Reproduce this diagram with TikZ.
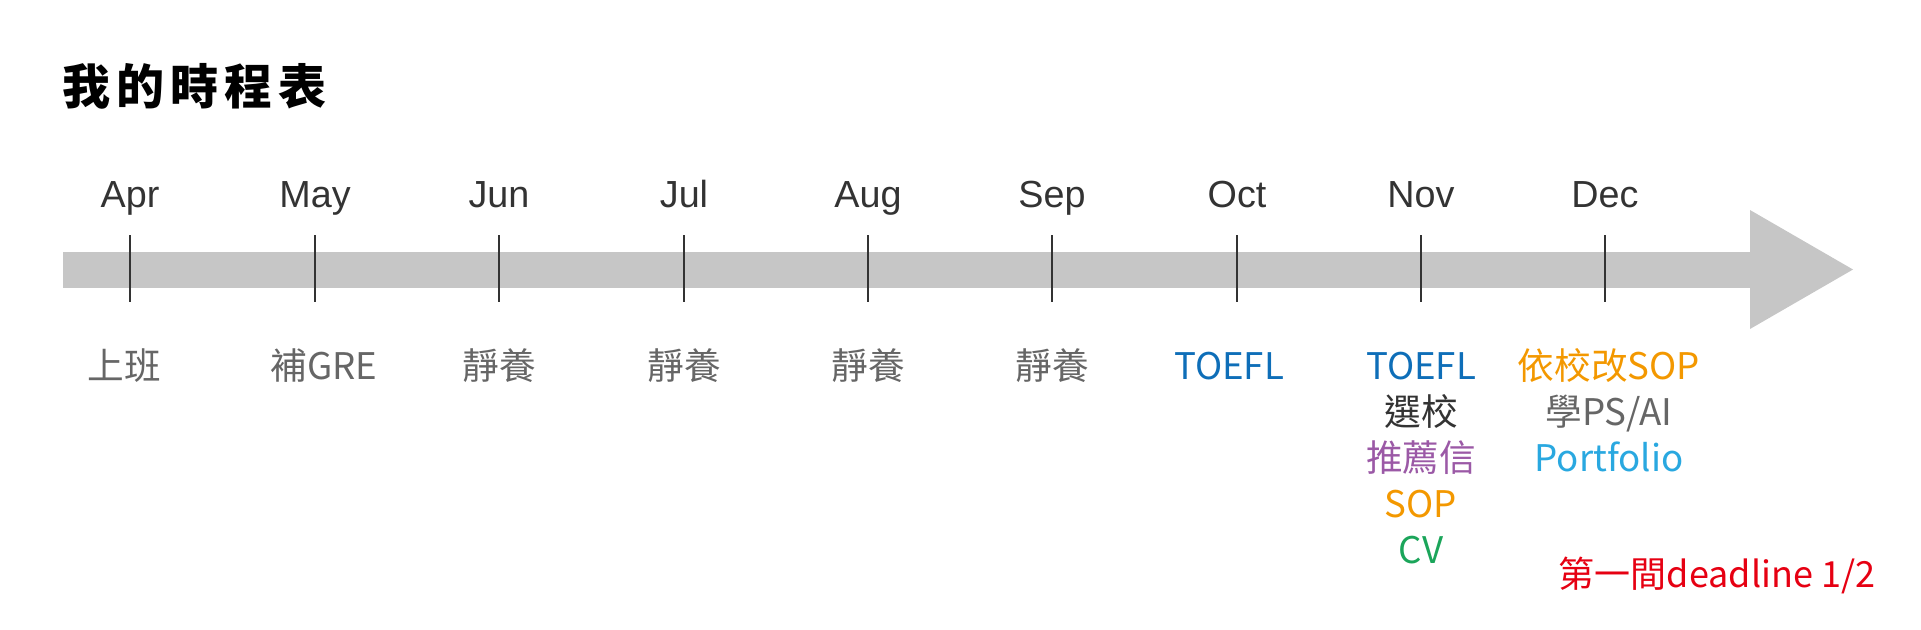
\documentclass[tikz,border=0pt]{standalone}
\usepackage{fontspec}
\setmainfont{Noto Sans CJK TC}
\newfontfamily\monthfont{Liberation Sans}
\usetikzlibrary{arrows.meta}
\definecolor{bargray}{HTML}{C6C6C6}
\definecolor{tickgray}{HTML}{333333}
\definecolor{monthgray}{HTML}{333333}
\definecolor{taskgray}{HTML}{666666}
\definecolor{toeflblue}{HTML}{0E6EB8}
\definecolor{recpurple}{HTML}{9B59A6}
\definecolor{soporange}{HTML}{F39800}
\definecolor{cvgreen}{HTML}{1BA55A}
\definecolor{folioblue}{HTML}{29A8E0}
\definecolor{deadred}{HTML}{E60012}
\tikzset{
titletext/.style={anchor=base west, inner sep=0pt, font=\bfseries\fontsize{36}{40}\selectfont}, % heading
month/.style={anchor=base, inner sep=0pt, text=monthgray, font=\monthfont\fontsize{28.3}{34}\selectfont}, % month names above the bar
task/.style={anchor=base, inner sep=0pt, text=taskgray, font=\fontsize{27.5}{34}\selectfont}, % plans below the bar
monthtick/.style={fill=tickgray, inner sep=0pt, minimum width=1.5pt, minimum height=50.25pt}, % marks across the bar
timeline/.style={draw=bargray, line width=27pt, -{Triangle[length=77.25pt, width=89.25pt, line width=0pt]}},
}

\begin{document}
\begin{tikzpicture}[x=0.75pt, y=-0.75pt]
            \useasboundingbox (0,0) rectangle (1921,629);
            \node[titletext] (title) at (62,104) {我\kern4.5pt 的\kern4.5pt 時\kern4.5pt 程\kern4.5pt 表};

            % the bar
            \coordinate (start) at (63,269.5);
            \coordinate (end) at (1853,269.5);
            \draw[timeline] (start) -- (end);

            \node[monthtick] (apr) at (130,268.5) {};
            \node[monthtick] (may) at (315,268.5) {};
            \node[monthtick] (jun) at (499,268.5) {};
            \node[monthtick] (jul) at (684,268.5) {};
            \node[monthtick] (aug) at (868,268.5) {};
            \node[monthtick] (sep) at (1052,268.5) {};
            \node[monthtick] (oct) at (1237,268.5) {};
            \node[monthtick] (nov) at (1421,268.5) {};
            \node[monthtick] (dec) at (1605,268.5) {};

            \node[month] (apr-name) at (130,207) {Apr};
            \node[month] (may-name) at (315,207) {May};
            \node[month] (jun-name) at (499,207) {Jun};
            \node[month] (jul-name) at (684,207) {Jul};
            \node[month] (aug-name) at (868,207) {Aug};
            \node[month] (sep-name) at (1052,207) {Sep};
            \node[month] (oct-name) at (1237,207) {Oct};
            \node[month] (nov-name) at (1421,207) {Nov};
            \node[month] (dec-name) at (1605,207) {Dec};

            % what to do each month
            \node[task] (apr-work) at (124,379) {上班};
            \node[task] (may-gre) at (324,379) {補GRE};
            \node[task] (jun-rest) at (499,379) {靜養};
            \node[task] (jul-rest) at (684,379) {靜養};
            \node[task] (aug-rest) at (868,379) {靜養};
            \node[task] (sep-rest) at (1052,379) {靜養};
            \node[task, text=toeflblue] (oct-toefl) at (1229,379) {TOEFL};

            \node[task, text=toeflblue] (nov-toefl) at (1421,379) {TOEFL};
            \node[task, text=monthgray] (nov-school) at (1421,425) {選校};
            \node[task, text=recpurple] (nov-letter) at (1421,471) {推薦信};
            \node[task, text=soporange] (nov-sop) at (1421,517) {SOP};
            \node[task, text=cvgreen] (nov-cv) at (1421,563) {CV};

            \node[task, text=soporange] (dec-sop) at (1609,379) {依校改SOP};
            \node[task] (dec-ps) at (1609,425) {學PS/AI};
            \node[task, text=folioblue] (dec-folio) at (1609,471) {Portfolio};

            \node[task, text=deadred, font=\fontsize{27}{34}\selectfont] (deadline) at (1717,587) {第一間deadline 1/2};
\end{tikzpicture}
\end{document}
